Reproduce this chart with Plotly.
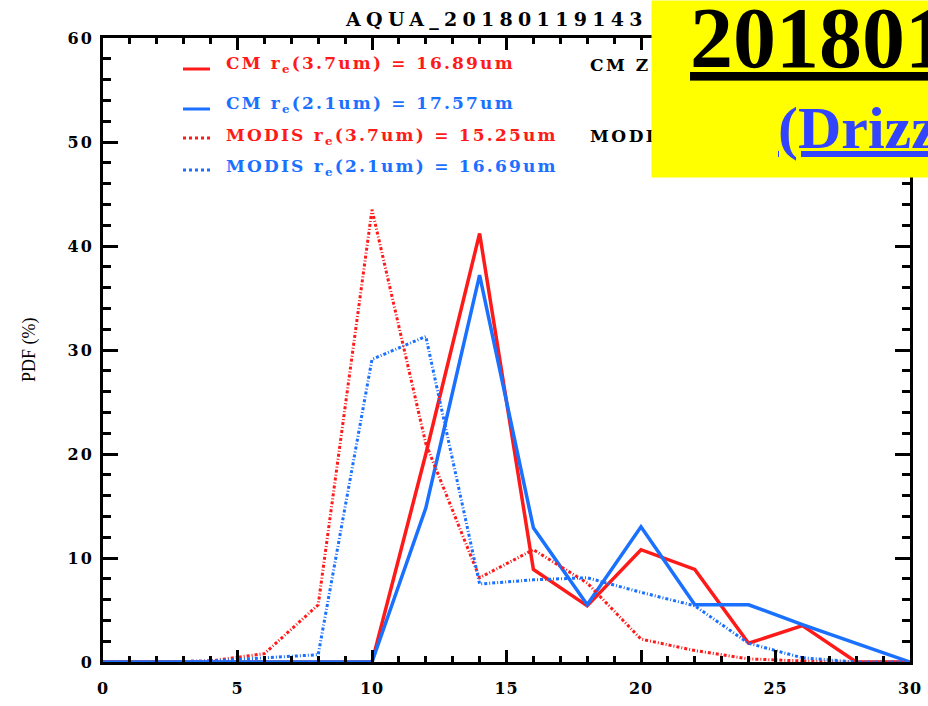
import plotly.graph_objects as go

x_bins = [0, 2, 4, 6, 8, 10, 12, 14, 16, 18, 20, 22, 24, 26, 28, 30]
cm_37 = [0, 0, 0, 0, 0, 0, 20.0, 41.2, 8.9, 5.4, 10.8, 8.9, 1.8, 3.5, 0, 0]
cm_21 = [0, 0, 0, 0, 0, 0, 14.8, 37.2, 12.9, 5.5, 13.0, 5.5, 5.5, 3.6, 1.8, 0]
modis_37 = [0, 0, 0.1, 0.8, 5.5, 43.5, 21.0, 8.1, 10.8, 7.6, 2.2, 1.1, 0.3, 0.1, 0, 0]
modis_21 = [0, 0, 0.1, 0.4, 0.7, 29.1, 31.3, 7.5, 7.9, 8.1, 6.7, 5.4, 1.8, 0.4, 0, 0]

legend_labels = ["CM r<sub>e</sub>(3.7um) = 16.89um", "CM r<sub>e</sub>(2.1um) = 17.57um",
                 "MODIS r<sub>e</sub>(3.7um) = 15.25um", "MODIS r<sub>e</sub>(2.1um) = 16.69um"]
title_text = "AQUA_20180119143"
box_line1 = "20180119"
box_line2 = "(Drizzle)"
x_ticks = [0, 5, 10, 15, 20, 25, 30]
y_ticks = [0, 10, 20, 30, 40, 50, 60]

RED = "#ff1a1a"
BLUE = "#1a70ff"
DASH = "3px,2px,1px,2px"

W, H = 928, 706
L, R, T, B = 103, 18, 38, 44
PW, PH = W - L - R, H - T - B

def px(xp):
    return (xp - L) / PW

def py(yp):
    return (H - B - yp) / PH

def wide(s, sp):
    return "<span style='letter-spacing:%.1fpx'>%s</span>" % (sp, s)

fig = go.Figure()
series = [(cm_37, RED, "solid", 3.5), (cm_21, BLUE, "solid", 3.5),
          (modis_37, RED, DASH, 3), (modis_21, BLUE, DASH, 3)]
for ys, c, d, w in series:
    fig.add_trace(go.Scatter(x=x_bins, y=ys, mode="lines",
                             line=dict(color=c, dash=d, width=w), showlegend=False))

serif = "Liberation Serif"
wserif = "DejaVu Serif"
annotations = []
shapes = []

# legend
leg_y_text = [65, 105, 136, 167]
leg_y_line = [69, 109, 138, 170]
leg_cols = [RED, BLUE, RED, BLUE]
leg_dash = ["solid", "solid", "dot", "dot"]
for lab, yt, yl, c, d in zip(legend_labels, leg_y_text, leg_y_line, leg_cols, leg_dash):
    annotations.append(dict(x=px(224), y=py(yt), xref="paper", yref="paper",
                            xanchor="left", yanchor="middle", showarrow=False,
                            text="<b>" + wide(lab, 2.2) + "</b>",
                            font=dict(family=wserif, size=17, color=c)))
    shapes.append(dict(type="line", xref="paper", yref="paper",
                       x0=px(183), x1=px(210), y0=py(yl), y1=py(yl),
                       line=dict(color=c, width=3, dash=d)))

annotations.append(dict(x=px(588), y=py(65), xref="paper", yref="paper",
                        xanchor="left", yanchor="middle", showarrow=False,
                        text="<b>" + wide("CM Z", 2.5) + "</b>",
                        font=dict(family=wserif, size=17, color="black")))
annotations.append(dict(x=px(588), y=py(136), xref="paper", yref="paper",
                        xanchor="left", yanchor="middle", showarrow=False,
                        text="<b>" + wide("MODIS", 2.5) + "</b>",
                        font=dict(family=wserif, size=17, color="black")))
annotations.append(dict(x=px(343), y=py(19), xref="paper", yref="paper",
                        xanchor="left", yanchor="middle", showarrow=False,
                        text="<b>" + wide(title_text, 5.3) + "</b>",
                        font=dict(family=wserif, size=19, color="black")))
annotations.append(dict(x=px(29), y=py(350), xref="paper", yref="paper",
                        xanchor="center", yanchor="middle", showarrow=False, textangle=-90,
                        text="PDF (%)", font=dict(family=serif, size=18, color="black")))

# yellow box (annotation so it covers text drawn before it)
annotations.append(dict(x=px(651), y=py(0), xref="paper", yref="paper",
                        xanchor="left", yanchor="top", showarrow=False,
                        text=" ", width=300, height=176, bgcolor="#ffff00", borderpad=0,
                        font=dict(size=10)))
annotations.append(dict(x=px(688), y=py(38), xref="paper", yref="paper",
                        xanchor="left", yanchor="middle", showarrow=False,
                        text="<b><u>" + box_line1 + "</u></b>",
                        font=dict(family=serif, size=86, color="black")))
annotations.append(dict(x=px(776), y=py(128), xref="paper", yref="paper",
                        xanchor="left", yanchor="middle", showarrow=False,
                        text="<b><u>" + box_line2 + "</u></b>",
                        font=dict(family=serif, size=60, color="#3344ff")))

tickfont = dict(family=wserif, size=16, color="black")
fig.update_layout(
    width=W, height=H, margin=dict(l=L, r=R, t=T, b=B),
    plot_bgcolor="white", paper_bgcolor="white",
    annotations=annotations, shapes=shapes,
    xaxis=dict(range=[0, 30], tickvals=x_ticks, automargin=False,
               ticktext=["<b>" + wide(str(v), 1.0) + "</b>" for v in x_ticks],
               ticks="inside", ticklen=12, tickwidth=3, tickcolor="black",
               minor=dict(dtick=1, ticks="inside", ticklen=6, tickwidth=3, tickcolor="black"),
               showline=True, linewidth=3, linecolor="black", mirror="ticks",
               showgrid=False, zeroline=False, tickfont=tickfont, ticklabelstandoff=10),
    yaxis=dict(range=[0, 60], tickvals=y_ticks, automargin=False,
               ticktext=["<b>" + wide(str(v), 2.0) + "</b>" for v in y_ticks],
               ticks="inside", ticklen=15, tickwidth=3, tickcolor="black",
               minor=dict(dtick=2, ticks="inside", ticklen=8, tickwidth=3, tickcolor="black"),
               showline=True, linewidth=3, linecolor="black", mirror="ticks",
               showgrid=False, zeroline=False, tickfont=tickfont, ticklabelstandoff=3),
)
fig.write_html("out.html")
